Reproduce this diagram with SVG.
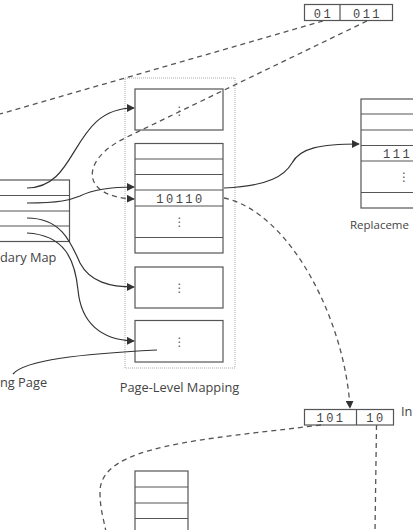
<svg xmlns="http://www.w3.org/2000/svg" width="413" height="530" viewBox="0 0 413 530">
<style>
.box{fill:#fff;stroke:#555;stroke-width:1.2}
.ln{stroke:#555;stroke-width:1.2}
.lbl{font-family:"Open Sans","Liberation Sans",sans-serif;font-size:12.8px;fill:#444}
.num{font-family:"Liberation Mono","DejaVu Sans Mono",monospace;font-size:12px;fill:#444;letter-spacing:2.5px}
.dots{font-family:"DejaVu Sans",sans-serif;font-size:12px;fill:#555;text-anchor:middle}
.solid{fill:none;stroke:#333;stroke-width:1.2}
.dash{fill:none;stroke:#555;stroke-width:1.3;stroke-dasharray:5,4}
</style>
<defs>
<marker id="ah" viewBox="0 0 10 10" refX="9" refY="5" markerWidth="8" markerHeight="8" markerUnits="userSpaceOnUse" orient="auto">
<path d="M0,0 L10,5 L0,10 z" fill="#333"/>
</marker>
</defs>
<rect width="413" height="530" fill="#fff"/>

<g id="top-address">
<rect class="box" x="304.5" y="4.5" width="88" height="16"/>
<line class="ln" x1="340" y1="4.5" x2="340" y2="20.5"/>
<text class="num" x="323.5" y="17.5" text-anchor="middle">01</text>
<text class="num" x="367.5" y="17.5" text-anchor="middle">011</text>
</g>

<g id="page-level-mapping">
<rect x="125" y="78" width="110" height="290" fill="none" stroke="#aaa" stroke-width="1" stroke-dasharray="1,1"/>
<text class="lbl" x="179.5" y="392" text-anchor="middle">Page-Level Mapping</text>
</g>

<g id="page1">
<rect class="box" x="135" y="89" width="88" height="41"/>
<text class="dots" x="179.5" y="115">⋮</text>
</g>

<g id="page2">
<rect class="box" x="135" y="143.5" width="88" height="109.5"/>
<line class="ln" x1="135" y1="159" x2="223" y2="159"/>
<line class="ln" x1="135" y1="174.5" x2="223" y2="174.5"/>
<line class="ln" x1="135" y1="190" x2="223" y2="190"/>
<line class="ln" x1="135" y1="206" x2="223" y2="206"/>
<line class="ln" x1="135" y1="237.5" x2="223" y2="237.5"/>
<text class="num" x="180.5" y="203" text-anchor="middle">10110</text>
<text class="dots" x="179.5" y="226">⋮</text>
</g>

<g id="page3">
<rect class="box" x="135" y="267" width="88" height="41"/>
<text class="dots" x="179.5" y="292">⋮</text>
</g>

<g id="page4">
<rect class="box" x="135" y="320.5" width="88" height="41.5"/>
<text class="dots" x="179.5" y="346">⋮</text>
</g>

<g id="secondary-map">
<rect class="box" x="-10" y="180" width="79.5" height="61.5"/>
<line class="ln" x1="-10" y1="195.5" x2="69.5" y2="195.5"/>
<line class="ln" x1="-10" y1="211" x2="69.5" y2="211"/>
<line class="ln" x1="-10" y1="226" x2="69.5" y2="226"/>
<text class="lbl" x="0" y="261.5">dary Map</text>
</g>

<g id="replacement">
<rect class="box" x="361" y="99" width="70" height="109"/>
<line class="ln" x1="361" y1="114" x2="431" y2="114"/>
<line class="ln" x1="361" y1="130" x2="431" y2="130"/>
<line class="ln" x1="361" y1="145.5" x2="431" y2="145.5"/>
<line class="ln" x1="361" y1="161" x2="431" y2="161"/>
<line class="ln" x1="361" y1="192.5" x2="431" y2="192.5"/>
<text class="num" x="383" y="158">111</text>
<text class="dots" x="404" y="181">⋮</text>
<text class="lbl" x="350" y="229" style="font-size:11.5px">Replaceme</text>
</g>

<g id="index-address">
<rect class="box" x="304.5" y="409.5" width="89" height="15.5"/>
<line class="ln" x1="356.5" y1="409.5" x2="356.5" y2="425"/>
<text class="num" x="331" y="422" text-anchor="middle">101</text>
<text class="num" x="376" y="422" text-anchor="middle">10</text>
<text class="lbl" x="401" y="416">In</text>
</g>

<g id="bottom-table">
<rect class="box" x="135" y="471" width="53" height="80"/>
<line class="ln" x1="135" y1="487" x2="188" y2="487"/>
<line class="ln" x1="135" y1="503" x2="188" y2="503"/>
<line class="ln" x1="135" y1="518.5" x2="188" y2="518.5"/>
</g>

<g id="missing-label">
<text class="lbl" x="0" y="387">ng Page</text>
</g>

<g id="connectors">
<path class="dash" d="M323,21 L0,114"/>
<path class="dash" d="M367,21 L125,138 C 80,160 80,197 134,199" marker-end="url(#ah)"/>
<path class="dash" d="M224,198 C 290,212 345,320 350,408" marker-end="url(#ah)"/>
<path class="dash" d="M321,425 C 200,440 100,445 100,492 C 100,510 104,520 106,532"/>
<path class="dash" d="M376.5,425 L375,532"/>
<path class="solid" d="M27,188 C 80,188 70,108 134,108" marker-end="url(#ah)"/>
<path class="solid" d="M27,203 C 60,203 70,200 80,196 C 92,190 110,187 134,187" marker-end="url(#ah)"/>
<path class="solid" d="M27,218 C 60,218 70,240 80,263 C 90,282 110,287 134,287" marker-end="url(#ah)"/>
<path class="solid" d="M27,233 C 65,235 75,260 78,290 C 81,322 100,340 134,341" marker-end="url(#ah)"/>
<path class="solid" d="M224,188 C 270,186 285,175 292,163 C 300,148 320,144 359,144" marker-end="url(#ah)"/>
<path class="solid" d="M157,350 C 80,354 25,360 13,374"/>
</g>
</svg>
